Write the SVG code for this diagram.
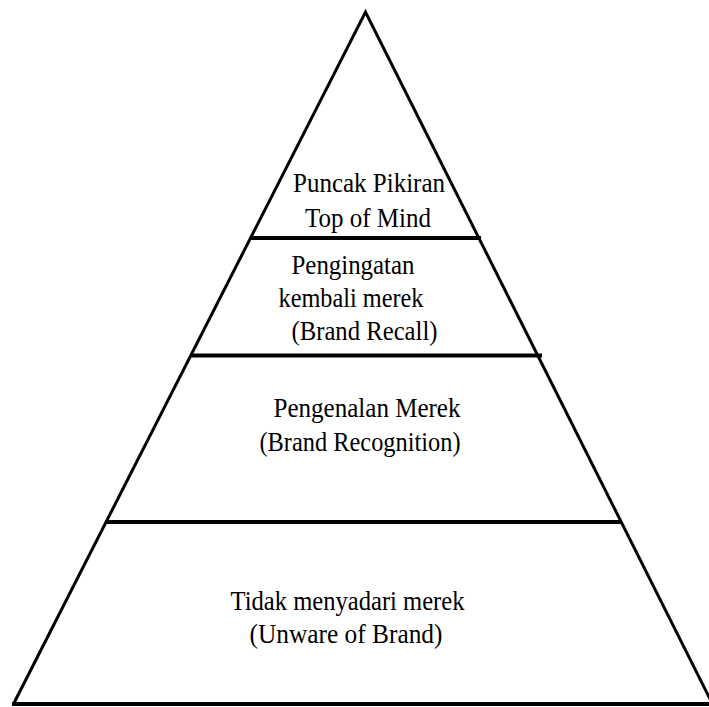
<svg xmlns="http://www.w3.org/2000/svg" width="709" height="707" viewBox="0 0 709 707">
<style>
.edge{stroke:#000;stroke-width:3;fill:none;stroke-linejoin:miter}
.div{stroke:#000;stroke-width:4;fill:none}
.t{font-family:"Liberation Serif","Times New Roman",serif;font-size:28px;fill:#000}
</style>
<rect width="709" height="707" fill="#fff"/>
<g id="pyramid-outline">
<polyline class="edge" points="14,703 365.5,12 712,703"/>
<line class="div" x1="12" y1="704" x2="709" y2="704"/>
</g>
<g id="dividers">
<line class="div" x1="250" y1="238" x2="481" y2="238"/>
<line class="div" x1="190" y1="355.5" x2="542" y2="355.5"/>
<line class="div" x1="107" y1="522" x2="622" y2="522"/>
</g>
<g id="tier-top-of-mind">
<text class="t" x="293" y="192" textLength="152" lengthAdjust="spacingAndGlyphs">Puncak Pikiran</text>
<text class="t" x="305" y="226.5" textLength="126" lengthAdjust="spacingAndGlyphs">Top of Mind</text>
</g>
<g id="tier-brand-recall">
<text class="t" x="291.5" y="274" textLength="123" lengthAdjust="spacingAndGlyphs">Pengingatan</text>
<text class="t" x="278.5" y="307" textLength="145" lengthAdjust="spacingAndGlyphs">kembali merek</text>
<text class="t" x="291.5" y="340" textLength="146" lengthAdjust="spacingAndGlyphs">(Brand Recall)</text>
</g>
<g id="tier-brand-recognition">
<text class="t" x="273.5" y="417" textLength="187" lengthAdjust="spacingAndGlyphs">Pengenalan Merek</text>
<text class="t" x="259.5" y="451" textLength="201" lengthAdjust="spacingAndGlyphs">(Brand Recognition)</text>
</g>
<g id="tier-unaware">
<text class="t" x="230.5" y="610" textLength="234" lengthAdjust="spacingAndGlyphs">Tidak menyadari merek</text>
<text class="t" x="249.5" y="643" textLength="193" lengthAdjust="spacingAndGlyphs">(Unware of Brand)</text>
</g>
</svg>
